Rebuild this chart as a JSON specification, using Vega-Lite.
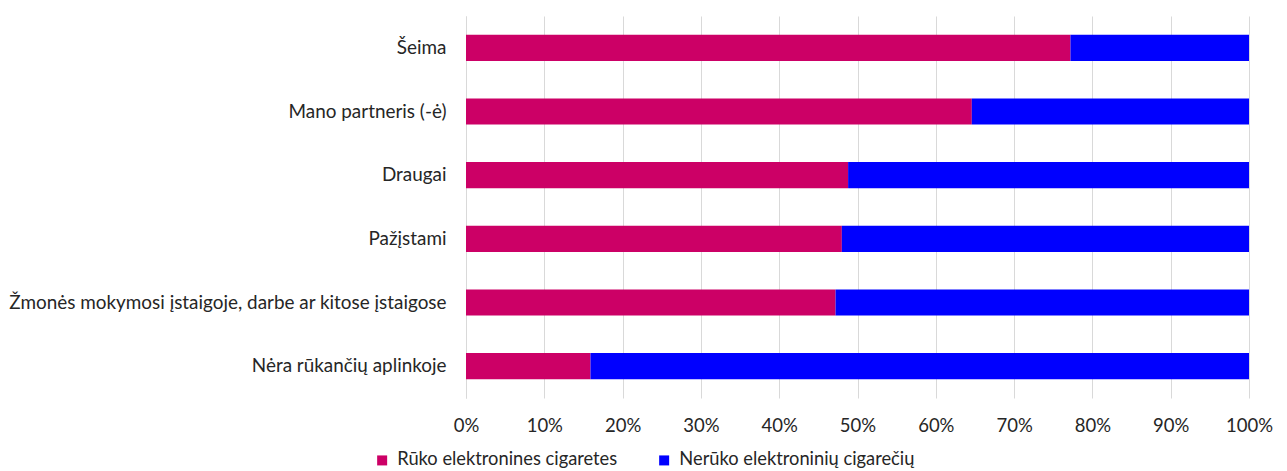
{
  "$schema": "https://vega.github.io/schema/vega-lite/v6.json",
  "autosize": {"type": "none"},
  "padding": {"left": 466, "top": 16, "right": 38, "bottom": 73},
  "width": 783,
  "height": 382,
  "background": "white",
  "config": {
    "font": "Lato",
    "view": {"stroke": null}
  },
  "data": {
    "values": [
      {"grupe": "Šeima", "atsakymas": "Rūko elektronines cigaretes", "dalis": 0.772, "eile": 1},
      {"grupe": "Šeima", "atsakymas": "Nerūko elektroninių cigarečių", "dalis": 0.228, "eile": 2},
      {"grupe": "Mano partneris (-ė)", "atsakymas": "Rūko elektronines cigaretes", "dalis": 0.646, "eile": 1},
      {"grupe": "Mano partneris (-ė)", "atsakymas": "Nerūko elektroninių cigarečių", "dalis": 0.354, "eile": 2},
      {"grupe": "Draugai", "atsakymas": "Rūko elektronines cigaretes", "dalis": 0.488, "eile": 1},
      {"grupe": "Draugai", "atsakymas": "Nerūko elektroninių cigarečių", "dalis": 0.512, "eile": 2},
      {"grupe": "Pažįstami", "atsakymas": "Rūko elektronines cigaretes", "dalis": 0.480, "eile": 1},
      {"grupe": "Pažįstami", "atsakymas": "Nerūko elektroninių cigarečių", "dalis": 0.520, "eile": 2},
      {"grupe": "Žmonės mokymosi įstaigoje, darbe ar kitose įstaigose", "atsakymas": "Rūko elektronines cigaretes", "dalis": 0.472, "eile": 1},
      {"grupe": "Žmonės mokymosi įstaigoje, darbe ar kitose įstaigose", "atsakymas": "Nerūko elektroninių cigarečių", "dalis": 0.528, "eile": 2},
      {"grupe": "Nėra rūkančių aplinkoje", "atsakymas": "Rūko elektronines cigaretes", "dalis": 0.159, "eile": 1},
      {"grupe": "Nėra rūkančių aplinkoje", "atsakymas": "Nerūko elektroninių cigarečių", "dalis": 0.841, "eile": 2}
    ]
  },
  "mark": {"type": "bar"},
  "encoding": {
    "y": {
      "field": "grupe",
      "type": "nominal",
      "sort": null,
      "scale": {"paddingInner": 0.59, "paddingOuter": 0.295},
      "axis": {
        "title": null,
        "domain": true,
        "domainColor": "#D9D9D9",
        "domainWidth": 1,
        "ticks": false,
        "labelPadding": 20,
        "labelFontSize": 18.9,
        "labelColor": "#262626",
        "labelLimit": 500
      }
    },
    "x": {
      "field": "dalis",
      "type": "quantitative",
      "stack": "zero",
      "scale": {"domain": [0, 1], "nice": false},
      "axis": {
        "title": null,
        "format": ".0%",
        "values": [0, 0.1, 0.2, 0.3, 0.4, 0.5, 0.6, 0.7, 0.8, 0.9, 1],
        "domain": false,
        "ticks": false,
        "grid": true,
        "gridColor": "#D9D9D9",
        "gridWidth": 1,
        "labelFlush": false,
        "labelPadding": 18,
        "labelFontSize": 18.5,
        "labelColor": "#262626"
      }
    },
    "color": {
      "field": "atsakymas",
      "type": "nominal",
      "scale": {
        "domain": ["Rūko elektronines cigaretes", "Nerūko elektroninių cigarečių"],
        "range": ["#CC0066", "#0000FF"]
      },
      "legend": {
        "title": null,
        "orient": "none",
        "direction": "horizontal",
        "legendX": -93,
        "legendY": 435,
        "symbolType": "square",
        "symbolSize": 100,
        "symbolStrokeWidth": 0,
        "labelFontSize": 18.3,
        "labelColor": "#262626",
        "labelOffset": 6,
        "columnPadding": 37,
        "labelLimit": 400
      }
    },
    "order": {"field": "eile", "type": "quantitative"}
  }
}
